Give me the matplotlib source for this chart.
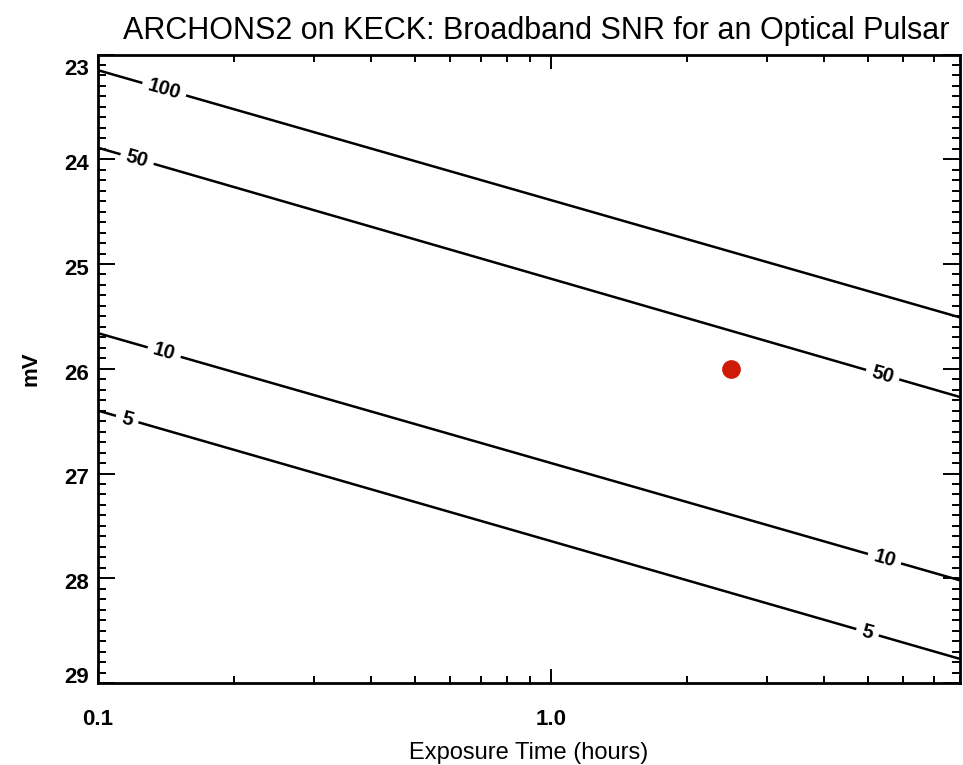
import math
import matplotlib
matplotlib.use("Agg")
import matplotlib.pyplot as plt
from matplotlib.ticker import FixedLocator, LogLocator, MultipleLocator, NullFormatter
from matplotlib.transforms import ScaledTranslation

plt.rcParams['font.family'] = ['Liberation Sans', 'DejaVu Sans']

# SNR contour levels: V magnitude reached at the shortest and longest exposure
snr_levels = [100, 50, 10, 5]
t_range = [0.1, 8.0]                 # exposure time, hours
mv_at_tmin = [23.15, 23.89, 25.66, 26.40]
mv_at_tmax = [25.51, 26.27, 28.02, 28.77]

# where each level is labelled (exposure time, hours)
label_times = {100: [0.14], 50: [0.122, 5.4], 10: [0.14, 5.45], 5: [0.116, 5.0]}

# the pulsar
pulsar_t = [2.5]
pulsar_mv = [26.0]

y_ticks = [23, 24, 25, 26, 27, 28, 29]
x_ticks = [0.1, 1.0]
x_ticklabels = ['0.1', '1.0']

W, H = 963, 765
fig = plt.figure(figsize=(W / 100, H / 100), dpi=100)
ax = fig.add_axes([98 / W, 1 - 683 / H, (960 - 98) / W, (683 - 54.5) / H])

ax.set_xscale('log')
ax.set_xlim(t_range[0], t_range[1])
ax.set_ylim(29, 23)

for lvl, m0, m1 in zip(snr_levels, mv_at_tmin, mv_at_tmax):
    ax.plot(t_range, [m0, m1], color='black', lw=1.8, solid_capstyle='butt', zorder=2)

fig.canvas.draw()
for lvl, m0, m1 in zip(snr_levels, mv_at_tmin, mv_at_tmax):
    p0 = ax.transData.transform((t_range[0], m0))
    p1 = ax.transData.transform((t_range[1], m1))
    ang = math.degrees(math.atan2(p1[1] - p0[1], p1[0] - p0[0]))
    lt0, lt1 = math.log10(t_range[0]), math.log10(t_range[1])
    for t in label_times[lvl]:
        f = (math.log10(t) - lt0) / (lt1 - lt0)
        m = m0 + f * (m1 - m0)
        ax.text(t, m, str(lvl), rotation=ang, rotation_mode='anchor',
                ha='center', va='center', fontsize=14.5, fontweight='bold',
                bbox=dict(boxstyle='square,pad=0.3', fc='white', ec='none'),
                zorder=3)

ax.plot(pulsar_t, pulsar_mv, 'o', color='#d01a08', markersize=13.5,
        markeredgewidth=0, zorder=4)

# axes styling
for s in ax.spines.values():
    s.set_linewidth(2.0)
ax.xaxis.set_major_locator(FixedLocator(x_ticks))
ax.xaxis.set_minor_locator(LogLocator(base=10, subs=range(2, 10)))
ax.xaxis.set_minor_formatter(NullFormatter())
ax.set_xticklabels(x_ticklabels)
ax.yaxis.set_major_locator(FixedLocator(y_ticks))
ax.yaxis.set_minor_locator(MultipleLocator(0.1))
ax.set_yticklabels([str(v) for v in y_ticks])

ax.tick_params(which='both', direction='in', top=True, right=True, width=1.4,
               colors='black')
ax.tick_params(axis='x', which='major', length=10, pad=18.5, labelsize=16)
ax.tick_params(axis='x', which='minor', length=5)
ax.tick_params(axis='y', which='major', length=12.5, pad=6.5, labelsize=16)
ax.tick_params(axis='y', which='minor', length=6)
for lab in ax.get_xticklabels() + ax.get_yticklabels():
    lab.set_fontweight('bold')

# nudge the end labels of the magnitude axis inside the frame
ylabs = ax.get_yticklabels()
for i, lab in enumerate(ylabs):
    dy = -3
    if i == 0:
        dy = -12
    elif i == len(ylabs) - 1:
        dy = 8
    lab.set_transform(lab.get_transform() + ScaledTranslation(0, dy / 100, fig.dpi_scale_trans))

ax.set_title('ARCHONS2 on KECK: Broadband SNR for an Optical Pulsar',
             fontsize=22, pad=11, x=0.508)
ax.set_xlabel('Exposure Time (hours)', fontsize=17, labelpad=9)
ax.set_ylabel('mV', fontsize=16, fontweight='bold', labelpad=16)

fig.savefig('out.png', dpi=100)
